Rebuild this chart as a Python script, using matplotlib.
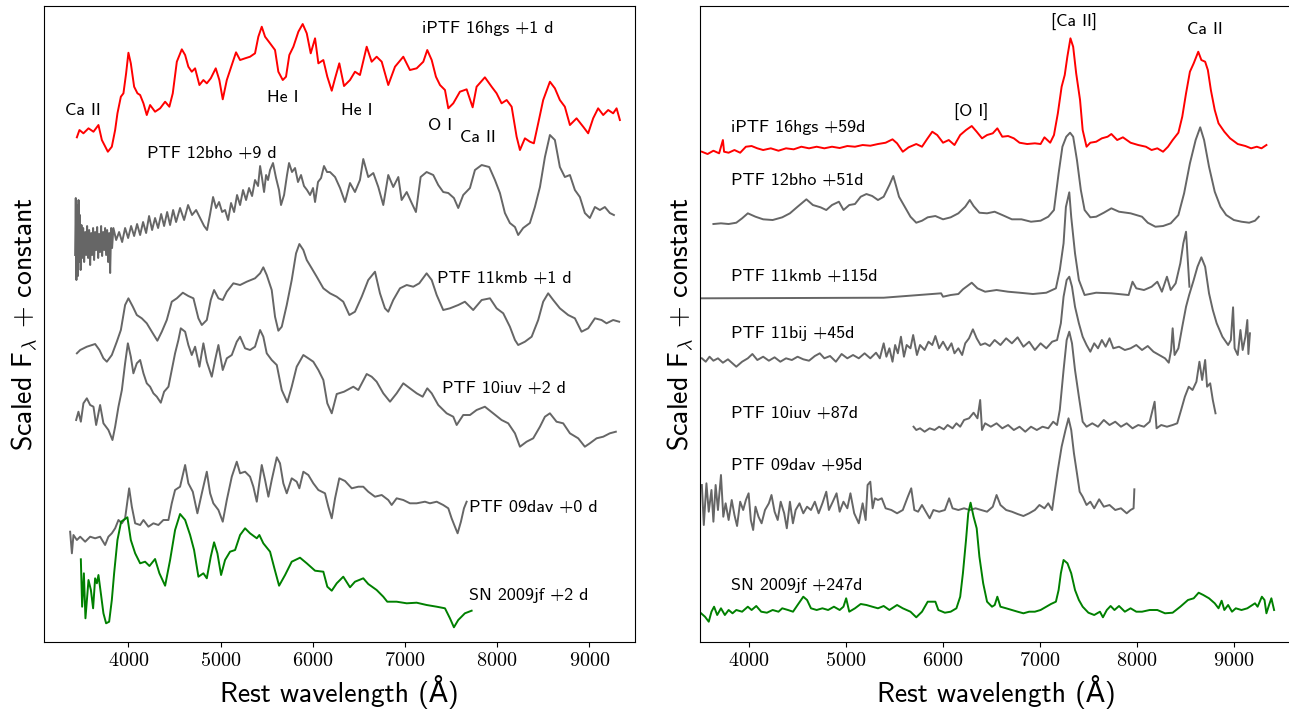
import matplotlib
matplotlib.use("Agg")
import matplotlib.pyplot as plt

plt.rcParams['mathtext.fontset'] = 'cm'
plt.rcParams['axes.formatter.use_mathtext'] = True

# ---------------- early-time spectra (left panel) ----------------
hgs_early_wave = [3442, 3470, 3513, 3568, 3622, 3676, 3713, 3778, 3821, 3857, 3882, 3919, 3947, 3976, 4001,
                  4027, 4063, 4099, 4128, 4164, 4200, 4236, 4290, 4345, 4399, 4445, 4482, 4526, 4580, 4616,
                  4651, 4688, 4724, 4771, 4814, 4851, 4894, 4948, 4987, 5024, 5068, 5122, 5168, 5212, 5266,
                  5320, 5374, 5410, 5447, 5483, 5537, 5591, 5627, 5675, 5710, 5746, 5790, 5844, 5891, 5935,
                  5978, 6025, 6061, 6115, 6158, 6206, 6242, 6288, 6339, 6404, 6458, 6512, 6585, 6639, 6693,
                  6748, 6819, 6892, 6982, 7054, 7127, 7199, 7242, 7290, 7336, 7380, 7434, 7470, 7524, 7596,
                  7669, 7734, 7777, 7867, 7940, 7994, 8048, 8103, 8157, 8211, 8247, 8301, 8355, 8398, 8445,
                  8499, 8572, 8626, 8680, 8734, 8789, 8861, 8933, 8987, 9041, 9095, 9150, 9204, 9258, 9295, 9331]
hgs_early_flux = [50.47, 51.20, 50.87, 51.37, 51.03, 51.70, 50.20, 49.03, 49.53, 51.20, 52.87, 54.53, 54.87, 56.87, 58.93,
                  57.87, 55.53, 54.87, 54.70, 53.87, 52.70, 53.70, 53.03, 53.37, 54.03, 53.53, 54.87, 58.03, 59.27, 58.70,
                  57.53, 57.03, 57.37, 55.70, 56.20, 55.87, 56.37, 57.37, 56.20, 54.27, 56.20, 57.70, 58.97, 58.20, 58.37,
                  58.53, 58.87, 60.53, 61.53, 60.53, 59.87, 59.20, 57.03, 56.20, 56.53, 58.70, 59.53, 61.03, 61.80, 60.87,
                  58.87, 60.37, 57.87, 58.20, 56.53, 55.13, 56.37, 57.87, 55.60, 56.20, 57.03, 56.70, 59.53, 58.03, 58.53,
                  58.03, 55.70, 57.53, 58.53, 57.20, 57.37, 58.03, 59.20, 58.20, 56.53, 55.70, 55.20, 53.37, 53.87, 55.03,
                  55.27, 53.47, 55.53, 56.47, 55.53, 54.87, 53.87, 54.20, 53.53, 50.53, 49.20, 50.37, 50.03, 49.87, 51.87,
                  54.20, 56.03, 55.37, 54.20, 53.53, 51.70, 52.37, 51.53, 50.87, 52.37, 53.37, 52.70, 53.20, 52.87, 53.37, 52.20]

bho_early_wave = [3423, 3430, 3437, 3445, 3453, 3460, 3468, 3475, 3483, 3492, 3499, 3510, 3521, 3532, 3543,
                  3553, 3564, 3575, 3586, 3597, 3608, 3618, 3629, 3640, 3651, 3662, 3673, 3683, 3694, 3705,
                  3716, 3727, 3738, 3748, 3759, 3770, 3781, 3792, 3803, 3814, 3824,
                  3838, 3868, 3900, 3933, 3965, 3998, 4030, 4063, 4095, 4128, 4160, 4193, 4225, 4258, 4290,
                  4323, 4356, 4388, 4421, 4453, 4486, 4518, 4561, 4605, 4648, 4691, 4735, 4778, 4822, 4854,
                  4887, 4919, 4952, 4984, 5017, 5049, 5082, 5114, 5147, 5179, 5212, 5244, 5277, 5309, 5342,
                  5374, 5407, 5429, 5450, 5472, 5494, 5515, 5537, 5569, 5602, 5634, 5656, 5689, 5721, 5743,
                  5775, 5808, 5840, 5873, 5905, 5938, 5971, 6003, 6025, 6057, 6090, 6122, 6155, 6187, 6242,
                  6296, 6350, 6404, 6458, 6512, 6548, 6602, 6657, 6711, 6765, 6819, 6873, 6928, 6964, 7019,
                  7073, 7119, 7170, 7235, 7307, 7361, 7415, 7470, 7531, 7578, 7632, 7705, 7759, 7832, 7914,
                  7976, 8030, 8084, 8138, 8193, 8228, 8282, 8355, 8409, 8464, 8518, 8572, 8626, 8680, 8734,
                  8789, 8843, 8897, 8951, 9005, 9060, 9114, 9168, 9222, 9266]
bho_early_flux = [38.7, 44.4, 36.2, 43.7, 36.6, 44.2, 38.0, 42.7, 37.2, 41.7, 38.4, 41.4, 38.0, 41.0, 38.7,
                  41.6, 38.4, 41.2, 37.7, 40.9, 38.7, 41.4, 38.2, 41.0, 39.2, 41.5, 38.4, 40.8, 39.0, 41.6,
                  38.6, 41.0, 39.2, 41.4, 38.7, 41.2, 38.0, 40.9, 36.9, 41.4, 39.4,
                  41.4, 40.2, 41.0, 40.0, 41.4, 40.4, 41.6, 40.6, 41.8, 40.7, 42.0, 40.9, 42.6, 41.2, 42.4,
                  41.4, 42.8, 41.6, 43.0, 41.7, 43.2, 42.0, 43.4, 42.2, 43.7, 42.7, 43.2, 42.4, 41.6, 41.2,
                  42.8, 44.5, 43.4, 44.0, 43.0, 43.2, 42.2, 43.9, 43.0, 44.7, 43.7, 45.2, 44.2, 45.4, 44.6,
                  46.2, 45.6, 47.6, 46.4, 45.0, 46.7, 46.2, 47.2, 47.9, 46.4, 45.2, 43.7, 44.7, 46.7, 47.9,
                  47.0, 47.4, 46.0, 46.7, 45.6, 45.2, 44.7, 45.4, 44.0, 46.0, 46.4, 47.6, 47.0, 47.0, 46.5,
                  45.4, 44.0, 45.9, 45.0, 46.2, 48.3, 46.5, 46.9, 45.5, 43.7, 46.7, 45.5, 46.5, 44.2, 45.0,
                  43.9, 43.0, 46.5, 47.0, 46.7, 45.7, 45.0, 44.9, 44.4, 43.4, 44.7, 45.4, 47.2, 47.7, 47.5,
                  46.2, 44.9, 42.9, 41.9, 41.5, 40.7, 41.4, 41.9, 43.5, 45.5, 48.5, 50.7, 50.2, 47.5, 46.5,
                  46.7, 45.2, 44.5, 42.9, 42.4, 43.5, 43.2, 43.5, 42.9, 42.7]

kmb_early_wave = [3442, 3478, 3550, 3640, 3687, 3730, 3767, 3821, 3875, 3919, 3965, 4001, 4049, 4092, 4146,
                  4200, 4255, 4315, 4363, 4417, 4471, 4526, 4591, 4651, 4706, 4760, 4797, 4851, 4894, 4930,
                  4977, 5024, 5068, 5139, 5212, 5284, 5374, 5429, 5464, 5501, 5555, 5591, 5627, 5664, 5718,
                  5772, 5819, 5855, 5898, 5935, 5989, 6043, 6115, 6187, 6260, 6331, 6397, 6458, 6531, 6602,
                  6675, 6729, 6783, 6819, 6873, 6946, 7019, 7090, 7155, 7235, 7290, 7344, 7415, 7488, 7578,
                  7650, 7740, 7832, 7922, 7994, 8066, 8138, 8193, 8228, 8301, 8374, 8445, 8499, 8553, 8608,
                  8680, 8770, 8843, 8915, 8987, 9060, 9132, 9186, 9258, 9323]
kmb_early_flux = [28.87, 29.20, 29.53, 29.80, 29.20, 28.37, 28.03, 28.70, 30.03, 31.20, 33.70, 34.37, 33.53, 32.70, 32.37,
                  31.87, 31.03, 30.13, 31.03, 32.20, 34.03, 34.37, 34.93, 34.60, 34.37, 32.37, 31.70, 32.20, 34.20, 35.20,
                  34.37, 34.20, 35.03, 35.87, 35.70, 36.03, 36.37, 36.87, 37.47, 36.70, 35.20, 32.53, 31.13, 31.53, 33.70,
                  36.20, 38.87, 39.80, 39.20, 38.20, 37.37, 36.53, 35.37, 34.87, 34.53, 34.03, 32.70, 33.03, 34.53, 36.20,
                  37.03, 34.87, 33.37, 33.03, 34.20, 35.37, 35.70, 35.53, 35.87, 36.87, 36.20, 34.70, 33.20, 33.37, 33.70,
                  34.03, 33.20, 34.20, 34.37, 33.37, 32.87, 31.53, 30.20, 29.70, 30.03, 30.53, 32.20, 34.03, 34.87, 34.20,
                  33.37, 32.70, 32.37, 31.03, 31.37, 32.37, 32.20, 31.87, 32.20, 32.03]

iuv_early_wave = [3434, 3459, 3485, 3513, 3550, 3586, 3622, 3651, 3694, 3730, 3784, 3828, 3857, 3893, 3930,
                  3965, 3995, 4027, 4055, 4092, 4128, 4164, 4200, 4236, 4272, 4309, 4352, 4388, 4435, 4471,
                  4507, 4543, 4569, 4616, 4651, 4688, 4724, 4771, 4814, 4851, 4905, 4941, 4977, 5024, 5068,
                  5122, 5176, 5212, 5266, 5320, 5374, 5429, 5464, 5501, 5555, 5610, 5664, 5724, 5772, 5826,
                  5898, 5952, 6006, 6061, 6115, 6158, 6206, 6260, 6339, 6440, 6494, 6585, 6639, 6693, 6765,
                  6838, 6910, 6982, 7054, 7127, 7192, 7242, 7290, 7361, 7452, 7524, 7561, 7632, 7705, 7777,
                  7867, 7957, 8048, 8120, 8193, 8247, 8319, 8391, 8464, 8518, 8572, 8644, 8716, 8789, 8879,
                  8951, 9005, 9078, 9150, 9222, 9287]
iuv_early_flux = [22.20, 23.03, 22.03, 23.87, 24.37, 23.70, 23.53, 21.70, 23.70, 21.87, 21.20, 20.20, 21.53, 23.53, 25.20,
                  27.87, 29.87, 28.53, 26.87, 27.87, 28.20, 26.87, 25.87, 25.53, 24.87, 24.53, 23.93, 25.03, 25.53, 27.20,
                  28.87, 30.20, 31.37, 31.03, 29.70, 28.70, 29.53, 27.53, 29.87, 28.03, 26.53, 28.20, 29.70, 27.20, 28.37,
                  28.70, 30.03, 30.53, 29.37, 29.20, 29.53, 31.20, 30.53, 28.87, 28.20, 27.70, 25.20, 23.97, 25.53, 27.53,
                  28.70, 28.37, 28.03, 27.20, 26.20, 23.87, 22.87, 24.80, 25.03, 25.53, 25.20, 26.80, 26.53, 26.03, 24.87,
                  24.03, 24.87, 25.87, 25.37, 24.87, 24.53, 25.37, 24.87, 23.70, 22.87, 22.53, 21.70, 22.70, 22.70, 23.20,
                  23.53, 22.87, 22.20, 21.87, 20.87, 19.53, 20.03, 20.37, 21.53, 22.53, 22.87, 22.03, 21.87, 20.87, 20.37,
                  19.53, 19.87, 20.37, 20.53, 20.87, 21.03]

dav_early_wave = [3369, 3388, 3405, 3442, 3478, 3532, 3586, 3640, 3694, 3748, 3784, 3821, 3857, 3893, 3930,
                  3965, 4009, 4038, 4074, 4128, 4164, 4218, 4272, 4326, 4380, 4435, 4471, 4507, 4561, 4616,
                  4651, 4699, 4749, 4797, 4851, 4887, 4922, 4977, 5024, 5068, 5122, 5176, 5212, 5266, 5320,
                  5356, 5393, 5447, 5483, 5519, 5555, 5610, 5645, 5681, 5718, 5772, 5826, 5855, 5898, 5952,
                  6006, 6061, 6133, 6169, 6206, 6242, 6288, 6350, 6423, 6494, 6548, 6602, 6675, 6748, 6819,
                  6856, 6910, 6982, 7054, 7127, 7217, 7271, 7344, 7415, 7470, 7506, 7542, 7571, 7607, 7640, 7669]
dav_early_flux = [11.03, 8.87, 10.70, 10.20, 10.53, 10.03, 10.53, 10.37, 10.53, 9.70, 10.53, 10.87, 11.37, 12.20, 11.87,
                  12.37, 15.37, 13.53, 11.87, 11.70, 12.20, 11.53, 11.87, 11.70, 12.20, 12.20, 13.87, 15.20, 15.53, 17.70,
                  15.87, 15.03, 12.87, 14.87, 17.03, 14.87, 13.87, 13.20, 12.03, 14.20, 16.53, 18.03, 16.87, 17.03, 16.53,
                  15.53, 14.03, 17.70, 16.20, 14.53, 16.20, 18.47, 17.87, 15.87, 14.87, 16.37, 16.03, 15.37, 17.03, 16.70,
                  15.87, 15.20, 14.87, 13.53, 12.37, 14.37, 16.37, 16.10, 15.37, 15.53, 15.53, 15.03, 14.53, 14.70, 14.20,
                  13.70, 14.37, 14.20, 13.87, 13.87, 14.03, 13.87, 14.03, 13.70, 13.37, 12.37, 11.53, 10.87, 12.03, 13.37, 14.03]

jf_early_wave = [3485, 3499, 3518, 3535, 3568, 3594, 3618, 3640, 3659, 3676, 3702, 3730, 3759, 3792, 3821,
                 3846, 3882, 3922, 3990, 4027, 4074, 4128, 4182, 4229, 4290, 4337, 4399, 4453, 4507, 4561,
                 4616, 4670, 4713, 4760, 4814, 4851, 4894, 4930, 4966, 5006, 5049, 5103, 5158, 5212, 5266,
                 5320, 5393, 5421, 5464, 5537, 5584, 5635, 5700, 5772, 5862, 5935, 6025, 6115, 6158, 6206,
                 6260, 6331, 6404, 6458, 6548, 6602, 6693, 6765, 6808, 6910, 7019, 7127, 7235, 7344, 7434,
                 7488, 7531, 7578, 7650, 7723]
jf_early_flux = [8.27, 3.53, 6.87, 2.37, 6.20, 5.20, 3.37, 6.37, 5.87, 6.70, 4.87, 2.87, 1.87, 2.03, 4.20,
                 6.87, 10.20, 12.03, 12.47, 10.20, 8.87, 7.87, 8.03, 7.60, 8.30, 6.87, 5.63, 8.20, 11.20, 12.80,
                 12.20, 10.70, 9.20, 6.53, 6.87, 6.37, 8.53, 9.97, 8.87, 6.70, 8.20, 9.03, 9.20, 10.70, 11.37,
                 10.87, 10.37, 10.70, 9.87, 9.03, 7.37, 5.63, 6.70, 8.03, 8.43, 7.87, 7.13, 7.03, 5.53, 5.13,
                 5.87, 6.53, 5.47, 6.03, 6.37, 5.80, 5.20, 4.53, 4.03, 4.03, 3.87, 3.93, 3.70, 3.53, 3.37,
                 2.37, 1.47, 2.20, 2.87, 3.13]

# ---------------- nebular spectra (right panel) ----------------
hgs_late_wave = [3516, 3575, 3635, 3694, 3733, 3745, 3792, 3852, 3911, 3970, 4029, 4088, 4148, 4227, 4306,
                 4384, 4463, 4542, 4621, 4700, 4779, 4858, 4937, 5016, 5095, 5174, 5253, 5332, 5411, 5482,
                 5529, 5588, 5648, 5727, 5786, 5837, 5892, 5943, 6003, 6062, 6121, 6180, 6240, 6299, 6350,
                 6405, 6457, 6516, 6563, 6614, 6674, 6733, 6792, 6871, 6950, 7009, 7049, 7108, 7147, 7187,
                 7226, 7258, 7285, 7317, 7345, 7376, 7416, 7443, 7483, 7522, 7582, 7641, 7700, 7739, 7799,
                 7858, 7937, 8016, 8095, 8154, 8213, 8272, 8323, 8371, 8430, 8470, 8509, 8549, 8588, 8635,
                 8667, 8706, 8734, 8765, 8805, 8844, 8904, 8963, 9042, 9121, 9180, 9239, 9287, 9338]
hgs_late_flux = [49.03, 48.80, 49.13, 48.87, 50.20, 49.03, 48.93, 49.20, 48.93, 49.53, 49.60, 49.37, 49.20, 49.37, 49.13,
                 49.37, 49.27, 49.53, 49.37, 49.53, 49.37, 49.53, 49.40, 49.60, 49.53, 49.70, 49.63, 49.80, 49.93, 50.27,
                 49.87, 49.03, 49.47, 49.80, 49.53, 50.27, 51.03, 50.70, 49.93, 50.20, 49.70, 50.70, 51.20, 51.60, 51.03,
                 50.37, 50.70, 50.87, 51.37, 50.53, 50.60, 50.37, 49.93, 49.80, 49.87, 49.80, 50.47, 49.93, 50.70, 52.87,
                 55.53, 56.70, 58.53, 60.37, 59.53, 56.87, 54.20, 51.20, 49.53, 49.93, 50.03, 50.37, 50.53, 50.80, 50.20,
                 50.47, 49.93, 49.70, 49.53, 49.20, 49.37, 49.03, 49.53, 50.20, 50.93, 52.53, 54.87, 57.03, 57.87, 59.03,
                 58.20, 58.03, 57.20, 55.20, 53.20, 51.87, 51.03, 50.37, 49.80, 49.60, 49.37, 49.53, 49.37, 49.70]

bho_late_wave = [3635, 3713, 3792, 3871, 3931, 3990, 4069, 4148, 4246, 4345, 4424, 4503, 4594, 4661, 4740,
                 4799, 4858, 4929, 4977, 5036, 5095, 5154, 5213, 5273, 5332, 5391, 5450, 5490, 5521, 5549,
                 5608, 5667, 5727, 5786, 5845, 5924, 6003, 6082, 6161, 6232, 6279, 6318, 6378, 6457, 6535,
                 6614, 6713, 6812, 6910, 7009, 7088, 7147, 7195, 7234, 7274, 7313, 7345, 7384, 7424, 7463,
                 7522, 7582, 7661, 7739, 7818, 7937, 8055, 8114, 8193, 8272, 8351, 8430, 8489, 8549, 8608,
                 8655, 8695, 8746, 8805, 8864, 8923, 9002, 9081, 9160, 9220, 9259]
bho_late_flux = [41.80, 41.87, 41.80, 41.93, 42.37, 42.87, 42.53, 42.27, 42.20, 42.47, 42.87, 43.53, 44.27, 43.70, 43.47,
                 43.20, 43.70, 44.03, 43.20, 43.70, 43.80, 44.53, 44.80, 44.60, 44.20, 44.53, 45.70, 46.60, 45.53, 44.53,
                 43.53, 42.53, 41.93, 42.13, 42.47, 42.60, 42.27, 42.47, 42.87, 43.53, 44.20, 43.60, 42.93, 42.87, 43.03,
                 42.70, 42.27, 42.27, 42.03, 42.13, 42.53, 43.20, 46.87, 49.53, 50.53, 50.93, 50.53, 48.20, 45.20, 43.20,
                 42.47, 42.53, 42.93, 43.37, 43.03, 42.87, 42.53, 41.93, 41.53, 41.60, 41.87, 42.70, 44.87, 47.87, 50.20,
                 51.47, 50.20, 47.53, 45.03, 43.53, 42.70, 42.20, 42.03, 41.93, 42.13, 42.53]

kmb_late_wave = [3516, 5391, 5983, 6003, 6082, 6161, 6208, 6299, 6358, 6437, 6555, 6674, 6792, 6930, 7068,
                 7167, 7207, 7246, 7270, 7305, 7325, 7364, 7404, 7463, 7582, 7739, 7917, 7957, 7996, 8075,
                 8154, 8213, 8260, 8312, 8351, 8402, 8450, 8481, 8509, 8529, 8544]
kmb_late_flux = [34.37, 34.43, 34.87, 34.53, 34.70, 34.80, 35.27, 35.93, 35.37, 35.03, 35.20, 35.03, 34.93, 34.80, 34.93,
                 35.37, 37.20, 39.87, 43.50, 44.97, 42.50, 38.87, 36.20, 34.70, 34.93, 34.87, 34.70, 36.03, 35.37, 35.20,
                 35.53, 36.03, 35.03, 36.53, 35.20, 35.87, 37.87, 39.87, 41.03, 37.87, 35.53]

bij_late_wave = [3516, 3556, 3595, 3635, 3682, 3733, 3785, 3832, 3871, 3931, 3990, 4037, 4088, 4148, 4207,
                 4266, 4325, 4384, 4444, 4503, 4562, 4621, 4681, 4732, 4779, 4838, 4898, 4957, 5016, 5075,
                 5134, 5194, 5253, 5312, 5351, 5391, 5419, 5450, 5482, 5509, 5537, 5569, 5600, 5628, 5667,
                 5695, 5734, 5766, 5813, 5853, 5892, 5924, 5963, 6003, 6050, 6090, 6121, 6161, 6200, 6232,
                 6271, 6311, 6350, 6390, 6437, 6484, 6535, 6595, 6654, 6713, 6772, 6832, 6891, 6950, 7009,
                 7068, 7128, 7179, 7218, 7246, 7278, 7305, 7333, 7364, 7404, 7443, 7483, 7522, 7562, 7601,
                 7641, 7680, 7720, 7759, 7818, 7878, 7937, 7996, 8055, 8114, 8173, 8233, 8292, 8331, 8355,
                 8371, 8391, 8430, 8470, 8509, 8541, 8588, 8627, 8667, 8706, 8746, 8785, 8825, 8884, 8943,
                 8971, 8994, 9010, 9042, 9070, 9093, 9121, 9141, 9152, 9168]
bij_late_flux = [28.37, 28.03, 28.53, 28.13, 28.37, 27.93, 28.27, 27.87, 27.53, 28.03, 28.37, 28.80, 28.20, 28.53, 28.13,
                 28.47, 28.03, 28.37, 28.20, 28.53, 28.27, 28.13, 28.60, 28.87, 28.37, 28.60, 28.03, 28.80, 28.37, 28.70,
                 28.37, 28.87, 28.37, 28.93, 28.37, 29.87, 28.53, 29.37, 28.03, 29.70, 28.87, 30.53, 28.53, 29.70, 29.37,
                 30.70, 28.70, 29.70, 29.20, 30.03, 29.70, 30.60, 29.37, 30.03, 29.20, 29.87, 28.87, 29.37, 28.70, 29.87,
                 30.37, 31.27, 30.37, 29.70, 29.87, 29.60, 30.20, 29.70, 30.37, 29.87, 30.47, 29.53, 30.03, 29.20, 29.87,
                 29.37, 30.03, 30.20, 31.87, 34.53, 36.20, 36.53, 35.53, 33.53, 31.87, 30.53, 29.70, 29.03, 29.87, 29.37,
                 30.20, 29.53, 30.37, 29.37, 29.53, 29.20, 29.37, 29.70, 29.20, 29.60, 29.03, 28.70, 28.37, 27.93, 29.20,
                 31.37, 28.70, 29.37, 31.53, 33.53, 34.70, 36.20, 37.53, 38.47, 37.53, 34.87, 33.20, 31.87, 30.53, 29.70,
                 30.20, 33.47, 29.37, 28.70, 31.20, 29.20, 30.53, 32.20, 28.80, 30.87]

iuv_late_wave = [5699, 5727, 5766, 5813, 5865, 5916, 5963, 6011, 6050, 6101, 6141, 6180, 6220, 6271, 6318,
                 6358, 6386, 6405, 6437, 6496, 6555, 6614, 6674, 6733, 6792, 6851, 6910, 6970, 7029, 7088,
                 7139, 7179, 7207, 7246, 7278, 7305, 7333, 7364, 7404, 7443, 7483, 7542, 7601, 7661, 7720,
                 7779, 7838, 7897, 7957, 8016, 8075, 8134, 8185, 8205, 8253, 8312, 8371, 8418, 8458, 8497,
                 8537, 8576, 8616, 8647, 8675, 8706, 8726, 8758, 8785, 8813]
iuv_late_flux = [21.53, 21.20, 21.37, 21.03, 21.37, 21.20, 21.53, 21.27, 21.70, 21.37, 21.87, 21.53, 22.20, 22.37, 22.93,
                 22.37, 24.20, 21.20, 21.87, 21.53, 21.87, 21.37, 21.70, 21.20, 21.53, 21.03, 21.53, 21.20, 21.53, 21.37,
                 22.03, 21.70, 23.20, 27.20, 30.20, 31.03, 29.87, 27.20, 24.53, 22.03, 21.53, 21.87, 21.53, 22.20, 21.70,
                 22.03, 21.53, 21.87, 21.37, 21.70, 21.53, 22.03, 24.03, 21.37, 21.70, 21.53, 21.70, 21.87, 23.20, 24.53,
                 25.53, 25.20, 26.03, 28.03, 26.20, 28.20, 25.53, 25.87, 24.20, 22.87]

dav_late_wave = [3516, 3536, 3563, 3587, 3615, 3635, 3658, 3682, 3713, 3737, 3761, 3792, 3824, 3852, 3879,
                 3911, 3942, 3970, 3998, 4021, 4045, 4069, 4100, 4132, 4167, 4207, 4234, 4266, 4298, 4329,
                 4365, 4392, 4424, 4455, 4483, 4523, 4562, 4601, 4641, 4681, 4720, 4759, 4799, 4826, 4866,
                 4905, 4937, 4976, 5016, 5048, 5087, 5134, 5174, 5205, 5225, 5253, 5277, 5300, 5332, 5371,
                 5411, 5470, 5529, 5588, 5640, 5675, 5707, 5746, 5786, 5825, 5865, 5904, 5963, 6022, 6066,
                 6101, 6161, 6220, 6279, 6338, 6397, 6457, 6516, 6555, 6595, 6654, 6713, 6772, 6832, 6891,
                 6950, 6997, 7049, 7088, 7128, 7147, 7187, 7226, 7266, 7297, 7325, 7353, 7384, 7412, 7443,
                 7483, 7522, 7562, 7613, 7661, 7720, 7779, 7838, 7897, 7937, 7968, 7976]
dav_late_flux = [15.70, 11.70, 15.87, 13.03, 15.20, 12.03, 15.70, 13.20, 16.70, 12.53, 13.87, 12.20, 14.20, 12.70, 11.60,
                 14.03, 13.20, 14.20, 14.87, 12.20, 11.20, 13.53, 12.53, 11.87, 13.20, 13.87, 14.70, 13.03, 12.20, 14.03,
                 12.87, 11.37, 14.03, 11.87, 13.20, 13.87, 12.87, 13.53, 13.20, 14.03, 12.87, 13.87, 15.03, 13.20, 14.03,
                 14.87, 13.03, 14.03, 13.37, 14.87, 12.87, 11.87, 13.87, 12.20, 15.70, 16.03, 13.37, 14.37, 14.20, 14.37,
                 13.37, 13.20, 12.87, 13.20, 14.53, 15.37, 13.20, 13.03, 13.70, 13.03, 12.37, 13.20, 13.03, 13.20, 14.37,
                 13.37, 13.20, 13.37, 13.20, 13.37, 13.20, 13.03, 13.53, 14.70, 13.70, 13.20, 13.03, 12.80, 12.60, 12.87,
                 13.20, 13.70, 13.37, 13.87, 13.20, 14.53, 17.20, 19.53, 21.20, 22.37, 21.20, 18.87, 16.87, 15.03, 14.53,
                 13.70, 14.03, 13.37, 14.27, 13.53, 13.70, 13.20, 13.37, 12.87, 13.20, 13.37, 15.27]

jf_late_wave = [3508, 3548, 3587, 3615, 3642, 3674, 3713, 3753, 3792, 3832, 3871, 3931, 3990, 4029, 4077,
                4128, 4187, 4246, 4306, 4345, 4404, 4456, 4503, 4562, 4601, 4641, 4700, 4759, 4818, 4878,
                4937, 4976, 5004, 5036, 5095, 5154, 5213, 5273, 5332, 5391, 5450, 5529, 5588, 5667, 5727,
                5786, 5845, 5924, 5955, 6022, 6082, 6141, 6180, 6208, 6240, 6263, 6287, 6318, 6350, 6378,
                6417, 6457, 6508, 6536, 6563, 6595, 6654, 6713, 6772, 6832, 6891, 6950, 7009, 7068, 7116,
                7167, 7195, 7218, 7246, 7286, 7325, 7364, 7404, 7443, 7502, 7562, 7621, 7652, 7692, 7731,
                7771, 7818, 7878, 7937, 7996, 8055, 8134, 8213, 8292, 8371, 8450, 8529, 8588, 8639, 8687,
                8746, 8805, 8844, 8876, 8904, 8943, 8983, 9022, 9081, 9141, 9220, 9247, 9291, 9318, 9338,
                9365, 9389, 9417]
jf_late_flux = [2.87, 2.53, 2.03, 3.03, 3.53, 2.70, 3.37, 2.70, 3.20, 2.87, 3.20, 3.03, 3.53, 3.20, 3.60,
                3.03, 2.93, 3.20, 3.03, 3.37, 3.20, 3.03, 3.70, 4.53, 4.20, 3.37, 3.20, 3.37, 3.20, 3.53,
                3.20, 3.53, 4.37, 3.03, 3.37, 3.80, 3.70, 3.53, 3.37, 3.60, 3.20, 3.70, 3.37, 3.03, 2.47,
                3.03, 4.03, 4.03, 3.20, 2.93, 3.03, 3.37, 4.53, 6.87, 10.20, 12.87, 13.93, 12.53, 11.37, 8.53,
                5.87, 4.03, 3.53, 3.70, 4.53, 3.53, 3.37, 3.20, 3.03, 2.87, 3.03, 3.03, 3.20, 3.53, 3.80,
                4.03, 5.20, 6.87, 8.20, 7.87, 6.87, 5.20, 4.20, 3.53, 2.93, 2.70, 3.03, 2.47, 3.20, 3.60,
                3.20, 3.60, 3.03, 3.37, 3.03, 3.03, 3.20, 3.20, 2.87, 2.93, 3.53, 4.20, 4.37, 4.93, 4.70,
                4.37, 3.87, 3.37, 4.13, 3.20, 3.70, 3.03, 3.37, 3.20, 3.37, 3.87, 3.53, 4.53, 4.20, 2.87,
                3.70, 4.37, 3.20]

RED, GRAY, GREEN = 'red', '#666666', 'green'

early = [(hgs_early_wave, hgs_early_flux, RED), (bho_early_wave, bho_early_flux, GRAY),
         (kmb_early_wave, kmb_early_flux, GRAY), (iuv_early_wave, iuv_early_flux, GRAY),
         (dav_early_wave, dav_early_flux, GRAY), (jf_early_wave, jf_early_flux, GREEN)]
late = [(hgs_late_wave, hgs_late_flux, RED), (bho_late_wave, bho_late_flux, GRAY),
        (kmb_late_wave, kmb_late_flux, GRAY), (bij_late_wave, bij_late_flux, GRAY),
        (iuv_late_wave, iuv_late_flux, GRAY), (dav_late_wave, dav_late_flux, GRAY),
        (jf_late_wave, jf_late_flux, GREEN)]

# labels: (text, wavelength, y)
early_names = [('iPTF 16hgs +1 d', 7181, 61.4), ('PTF 12bho +9 d', 4200, 48.9), ('PTF 11kmb +1 d', 7344, 36.4),
               ('PTF 10iuv +2 d', 7398, 25.4), ('PTF 09dav +0 d', 7697, 13.5), ('SN 2009jf +2 d', 7697, 4.7)]
early_lines = [('Ca II', 3508, 53.2), ('He I', 5673, 54.5), ('He I', 6473, 53.2),
               ('O I', 7376, 51.7), ('Ca II', 7795, 50.5)]
late_names = [('iPTF 16hgs +59d', 3812, 51.5), ('PTF 12bho +51d', 3812, 46.2), ('PTF 11kmb +115d', 3812, 36.6),
              ('PTF 11bij +45d', 3812, 30.9), ('PTF 10iuv +87d', 3812, 22.9), ('PTF 09dav +95d', 3812, 17.7),
              ('SN 2009jf +247d', 3812, 5.7)]
late_lines = [('[O I]', 6291, 53.0), ('[Ca II]', 7353, 62.0), ('Ca II', 8703, 61.3)]

SANS = ['cmss10', 'DejaVu Sans']
fig = plt.figure(figsize=(12.89, 7.09), dpi=100)
ax1 = fig.add_axes([0.0341, 0.0945, 0.4589, 0.8970])
ax2 = fig.add_axes([0.5433, 0.0945, 0.4589, 0.8970])

for ax, spectra, names, lines, xlim in [(ax1, early, early_names, early_lines, (3085, 9500)),
                                        (ax2, late, late_names, late_lines, (3500, 9600))]:
    for w, f, c in spectra:
        ax.plot(w, f, color=c, lw=1.4)
    for t, x, y in names:
        ax.text(x, y, t, ha='left', va='center', fontsize=13, family=SANS)
    for t, x, y in lines:
        ax.text(x, y, t, ha='center', va='center', fontsize=13, family=SANS)
    ax.set_xlim(*xlim)
    ax.set_ylim(0, 63.6)
    ax.set_yticks([])
    ax.set_xticks([4000, 5000, 6000, 7000, 8000, 9000])
    for lab in ax.get_xticklabels():
        lab.set_family('cmr10')
        lab.set_fontsize(14.5)
    ax.set_xlabel('Rest wavelength (Å)', fontsize=20, family=SANS, labelpad=4)
    ax.set_ylabel(r'Scaled F$_\lambda$ + constant', fontsize=20, family=SANS, labelpad=3)

fig.savefig('out.png', dpi=100)
